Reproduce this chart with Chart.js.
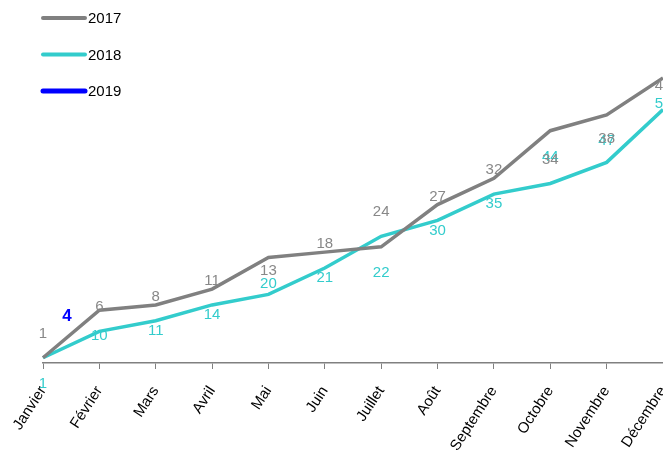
<!DOCTYPE html>
<html>
<head>
<meta charset="utf-8">
<script src="https://cdn.jsdelivr.net/npm/chart.js@4/dist/chart.umd.min.js"></script>
<style>
  html, body { margin: 0; padding: 0; background: #fff; }
  #wrap { width: 663px; height: 454px; }
</style>
</head>
<body>
<div id="wrap"><canvas id="chartMois"></canvas></div>
<script>
// Données
var mois = ["Janvier", "Février", "Mars", "Avril", "Mai", "Juin", "Juillet", "Août", "Septembre", "Octobre", "Novembre", "Décembre"];
var serie2017 = [1, 10, 11, 14, 20, 21, 22, 30, 35, 44, 47, 54];
var serie2018 = [1, 6, 8, 11, 13, 18, 24, 27, 32, 34, 38, 48];
var serie2019 = [4];

var GRIS = "#808080";
var TURQUOISE = "#33CCCC";
var BLEU = "#0000FF";
var POLICE = "'Liberation Sans', Arial, sans-serif";

// Étiquettes de valeurs (couleur et décalage par série)
var pluginEtiquettes = {
  id: "etiquettes",
  afterDatasetsDraw: function (chart) {
    var ctx = chart.ctx;
    chart.data.datasets.forEach(function (ds, i) {
      var meta = chart.getDatasetMeta(i);
      var opt = ds.etiquette;
      ctx.save();
      ctx.font = opt.font;
      ctx.fillStyle = opt.color;
      ctx.textAlign = "center";
      ctx.textBaseline = "middle";
      meta.data.forEach(function (pt, j) {
        ctx.fillText(String(ds.data[j]), pt.x + opt.dx, pt.y + opt.dy);
      });
      ctx.restore();
    });
  }
};

// Légende verticale en haut à gauche
var pluginLegende = {
  id: "legende",
  afterDraw: function (chart) {
    var ctx = chart.ctx;
    chart.data.datasets.forEach(function (ds, i) {
      var y = 18 + i * 36.5;
      ctx.save();
      ctx.strokeStyle = ds.borderColor;
      ctx.lineWidth = i === 2 ? 5 : 4;
      ctx.lineCap = "round";
      ctx.beginPath();
      ctx.moveTo(43, y);
      ctx.lineTo(85, y);
      ctx.stroke();
      ctx.fillStyle = "#000";
      ctx.font = "15px " + POLICE;
      ctx.textBaseline = "middle";
      ctx.fillText(ds.label, 88, y + 1);
      ctx.restore();
    });
  }
};

var ctx = document.getElementById("chartMois").getContext("2d");

var chartMois = new Chart(ctx, {
  type: "line",
  data: {
    labels: mois,
    datasets: [
      {
        label: "2017",
        data: serie2017,
        borderColor: GRIS,
        backgroundColor: GRIS,
        borderWidth: 3.5,
        pointRadius: 0,
        tension: 0,
        etiquette: { color: TURQUOISE, dx: 0, dy: 26, font: "15px " + POLICE }
      },
      {
        label: "2018",
        data: serie2018,
        borderColor: TURQUOISE,
        backgroundColor: TURQUOISE,
        borderWidth: 3.5,
        pointRadius: 0,
        tension: 0,
        etiquette: { color: "#888888", dx: 0, dy: -24, font: "15px " + POLICE }
      },
      {
        label: "2019",
        data: serie2019,
        borderColor: BLEU,
        backgroundColor: BLEU,
        borderWidth: 4,
        pointRadius: 0,
        etiquette: { color: BLEU, dx: 24, dy: -26, font: "bold 17px " + POLICE }
      }
    ]
  },
  options: {
    responsive: true,
    maintainAspectRatio: false,
    animation: false,
    layout: {
      padding: { left: 43, right: 0, top: 4, bottom: 0 }
    },
    scales: {
      x: {
        offset: false,
        grid: { display: true, drawOnChartArea: false, tickLength: 6, color: GRIS, lineWidth: 1 },
        border: { display: true, color: GRIS, width: 1.5 },
        ticks: {
          autoSkip: false,
          minRotation: 57,
          maxRotation: 57,
          padding: 14,
          color: "#000",
          font: { family: POLICE, size: 15 }
        },
        afterFit: function (scale) {
          scale.height = 91;
          scale.paddingLeft = 0;
          scale.paddingRight = 0;
        }
      },
      y: {
        display: false,
        min: 0,
        max: 68
      }
    },
    plugins: {
      legend: { display: false },
      tooltip: { enabled: false }
    }
  },
  plugins: [pluginEtiquettes, pluginLegende]
});
</script>
</body>
</html>
